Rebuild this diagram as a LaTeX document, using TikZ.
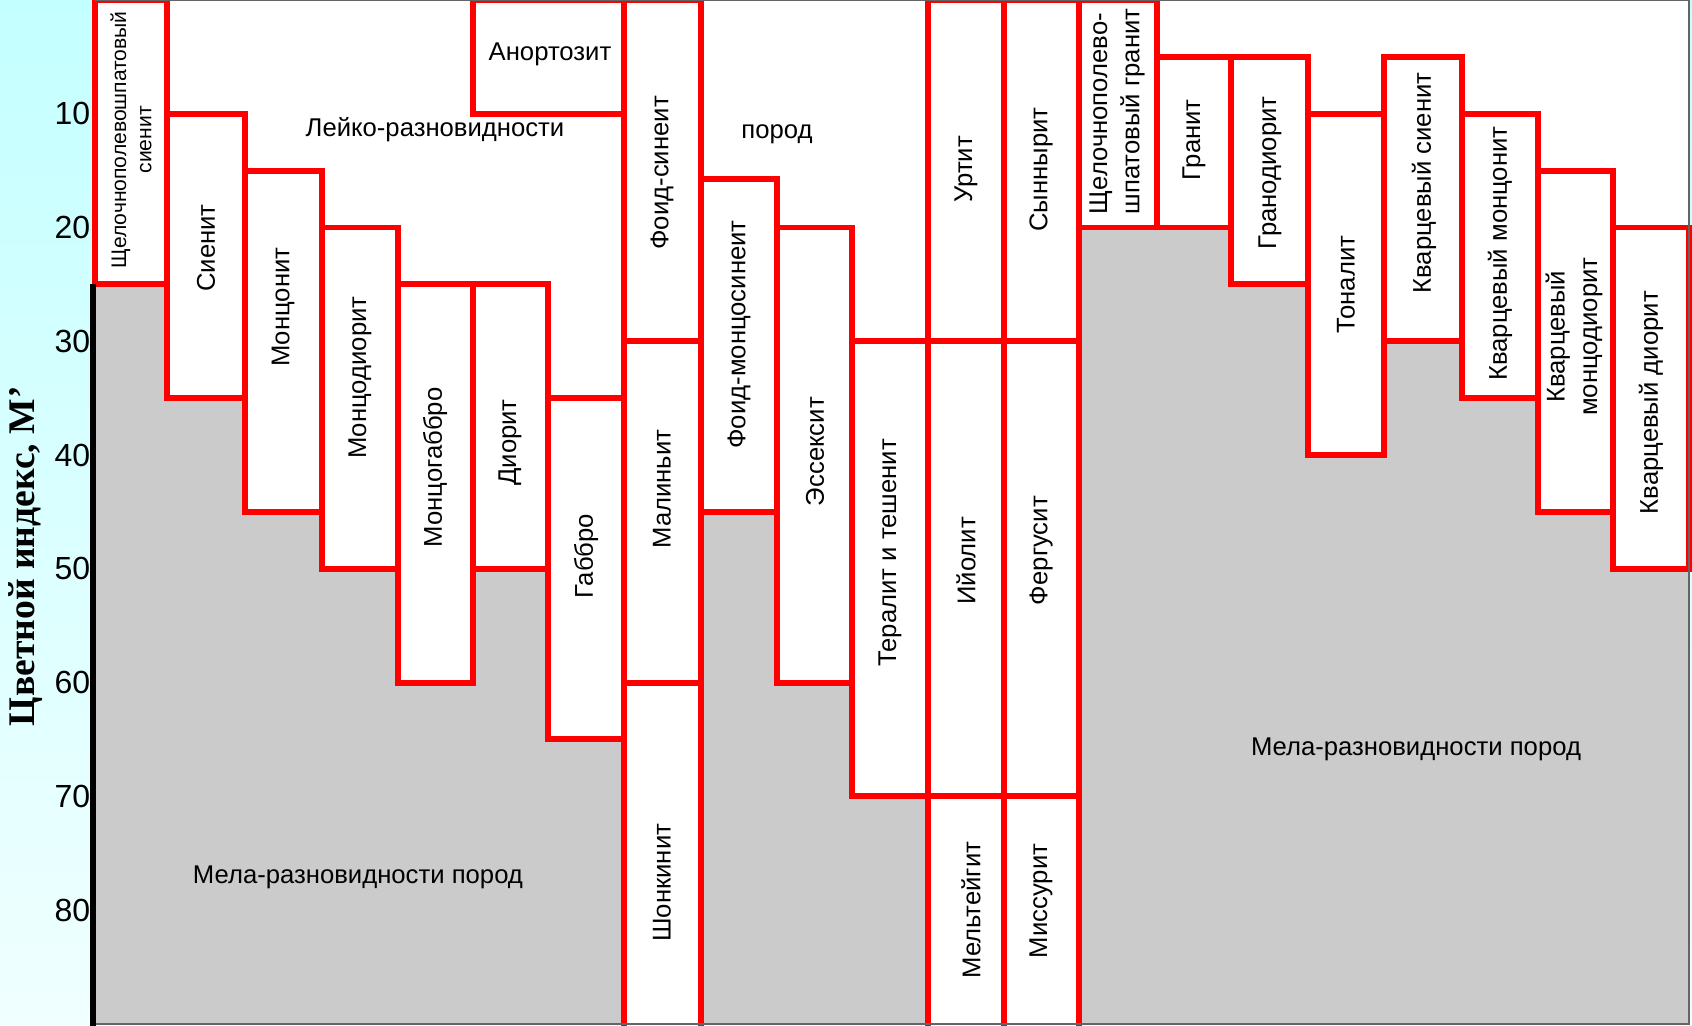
\documentclass[tikz,border=0pt]{standalone}
\usepackage{fontspec}
\setmainfont{Liberation Sans}
\newfontfamily\titlefont{Liberation Serif}

\definecolor{rockred}{RGB}{255,0,0}
\definecolor{melagray}{RGB}{203,203,203}
\definecolor{skytop}{RGB}{196,255,255}
\definecolor{skybottom}{RGB}{240,255,255}
\definecolor{framegray}{RGB}{100,100,100}

\tikzset{
  rock/.style={draw=rockred, line width=1.7pt, fill=white},
  rockname/.style={rotate=90, inner sep=0pt, align=center, font=\fontsize{7.3}{9.2}\selectfont},
  fieldname/.style={inner sep=0pt, font=\fontsize{7.3}{9}\selectfont},
  scalenum/.style={inner sep=0pt, anchor=east, font=\fontsize{9.1}{10}\selectfont}
}

\begin{document}
\begin{tikzpicture}[x=0.01cm, y=-0.1137cm]

  \useasboundingbox (0,0) rectangle (1692,90.15);

  % Background and chart field
  \shade[top color=skytop, bottom color=skybottom] (0,0) rectangle (1692,90.15);
  \fill[white] (95,0) rectangle (1689,90);

  % Mela fields below the columns
  \fill[melagray] (95,90) -- (95,25) -- (167,25) -- (167,35) -- (245,35) -- (245,45)
    -- (322,45) -- (322,50) -- (398,50) -- (398,60) -- (473,60) -- (473,50)
    -- (548,50) -- (548,65) -- (624,65) -- (624,90) -- cycle;
  \fill[melagray] (701,90) -- (701,45) -- (777,45) -- (777,60) -- (852,60)
    -- (852,70) -- (928,70) -- (928,90) -- cycle;
  \fill[melagray] (1079,90) -- (1079,20) -- (1231,20) -- (1231,25) -- (1308,25)
    -- (1308,40) -- (1384,40) -- (1384,30) -- (1462,30) -- (1462,35) -- (1538,35)
    -- (1538,45) -- (1613,45) -- (1613,50) -- (1689,50) -- (1689,90) -- cycle;

  % Syenite to gabbro columns
  \draw[rock] (95,0)   rectangle (167,25);
  \draw[rock] (167,10) rectangle (245,35);
  \draw[rock] (245,15) rectangle (322,45);
  \draw[rock] (322,20) rectangle (398,50);
  \draw[rock] (398,25) rectangle (473,60);
  \draw[rock] (473,25) rectangle (548,50);
  \draw[rock] (548,35) rectangle (624,65);
  \draw[rock] (473,0)  rectangle (624,10);

  % Foid-bearing columns
  \draw[rock] (624,0)  rectangle (701,30);
  \draw[rock] (624,30) rectangle (701,60);
  \draw[rock] (624,60) rectangle (701,91);
  \draw[rock] (701,15.7) rectangle (777,45);
  \draw[rock] (777,20) rectangle (852,60);
  \draw[rock] (852,30) rectangle (928,70);
  \draw[rock] (928,0)  rectangle (1004,30);
  \draw[rock] (928,30) rectangle (1004,70);
  \draw[rock] (928,70) rectangle (1004,91);
  \draw[rock] (1004,0)  rectangle (1079,30);
  \draw[rock] (1004,30) rectangle (1079,70);
  \draw[rock] (1004,70) rectangle (1079,91);

  % Quartz-bearing columns
  \draw[rock] (1079,0)  rectangle (1157,20);
  \draw[rock] (1157,5)  rectangle (1231,20);
  \draw[rock] (1231,5)  rectangle (1308,25);
  \draw[rock] (1308,10) rectangle (1384,40);
  \draw[rock] (1384,5)  rectangle (1462,30);
  \draw[rock] (1462,10) rectangle (1538,35);
  \draw[rock] (1538,15) rectangle (1613,45);
  \draw[rock] (1613,20) rectangle (1689,50);

  % Frame and axis
  \draw[framegray, line width=0.6pt] (95,0) -- (1689,0) -- (1689,90) -- (95,90);
  \draw[line width=1.6pt] (93,25) -- (93,90.15);

  % Rock names
  \node[rockname, font=\fontsize{6}{7.2}\selectfont] (afsyenite) at (131,12.3) {Щелочнополевошпатовый\\сиенит};
  \node[rockname] (syenite)    at (206,21.8) {Сиенит};
  \node[rockname] (monzonite)  at (283,27)   {Монцонит};
  \node[rockname] (monzodior)  at (360,33.2) {Монцодиорит};
  \node[rockname] (monzogab)   at (435,41.1) {Монцогаббро};
  \node[rockname] (diorite)    at (510,38.9) {Диорит};
  \node[rockname] (gabbro)     at (586,48.9) {Габбро};
  \node[fieldname] (anorth)    at (550,4.75) {Анортозит};
  \node[rockname] (foidsyen)   at (662,15.2) {Фоид-синеит};
  \node[rockname] (malignite)  at (662,43)   {Малиньит};
  \node[rockname] (shonkinite) at (662,77.6) {Шонкинит};
  \node[rockname] (foidmonz)   at (739,29.4) {Фоид-монцосинеит};
  \node[rockname] (essexite)   at (815,39.7) {Эссексит};
  \node[rockname] (theralite)  at (890,48.6) {Тералит и тешенит};
  \node[rockname] (urtite)     at (966,14.9) {Уртит};
  \node[rockname] (ijolite)    at (966,49.3) {Ийолит};
  \node[rockname] (melteig)    at (971,80)   {Мельтейгит};
  \node[rockname] (synnyrite)  at (1041,14.9) {Сыннырит};
  \node[rockname] (fergusite)  at (1041,48.4) {Фергусит};
  \node[rockname] (missourite) at (1041,79.2) {Миссурит};
  \node[rockname, align=left] (afgranite) at (1117,9.8) {Щелочнополево-\\шпатовый гранит};
  \node[rockname] (granite)    at (1194,12.3) {Гранит};
  \node[rockname] (granodior)  at (1270,15.2) {Гранодиорит};
  \node[rockname] (tonalite)   at (1346,25)   {Тоналит};
  \node[rockname] (qsyenite)   at (1424,16.1) {Кварцевый сиенит};
  \node[rockname] (qmonzonite) at (1500,22.3) {Кварцевый монцонит};
  \node[rockname] (qmonzodior) at (1574,29.6) {Кварцевый\\монцодиорит};
  \node[rockname] (qdiorite)   at (1651,35.4) {Кварцевый диорит};

  % Field names
  \node[fieldname] (leuco)     at (435,11.4) {Лейко-разновидности};
  \node[fieldname] (leucorock) at (777,11.8) {пород};
  \node[fieldname] (melaleft)  at (358,77.1) {Мела-разновидности пород};
  \node[fieldname] (melaright) at (1416,65.9) {Мела-разновидности пород};

  % Colour index scale
  \foreach \v in {10,20,...,80}
    \node[scalenum] (num\v) at (91,\v) {\v};
  \node[rotate=90, inner sep=0pt, font=\titlefont\bfseries\fontsize{10.7}{12}\selectfont]
    (axistitle) at (26,48.9) {Цветной индекс, М’};

\end{tikzpicture}
\end{document}
